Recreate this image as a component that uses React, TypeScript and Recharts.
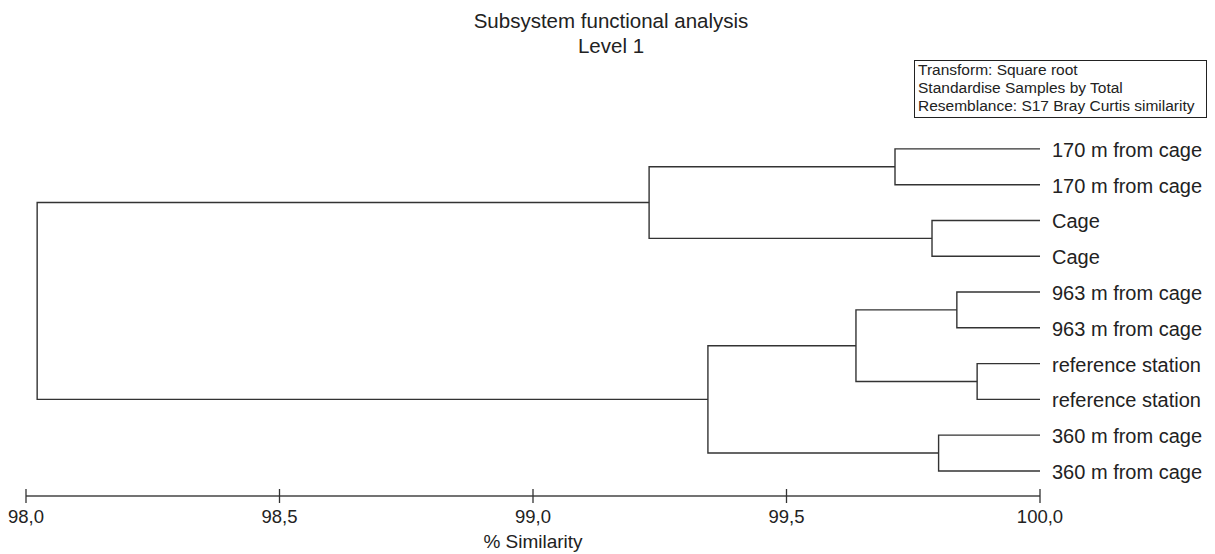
import { LineChart, Line, XAxis, YAxis } from "recharts";

// leaves, top to bottom
const leafLabels = [
  "170 m from cage",
  "170 m from cage",
  "Cage",
  "Cage",
  "963 m from cage",
  "963 m from cage",
  "reference station",
  "reference station",
  "360 m from cage",
  "360 m from cage",
];

// merge i creates cluster id 10 + i (ids < 10 are leaves)
const mergeLeft = [0, 2, 4, 6, 8, 10, 12, 16, 15];
const mergeRight = [1, 3, 5, 7, 9, 11, 13, 14, 17];
const mergeSimilarity = [99.714, 99.787, 99.836, 99.876, 99.8, 99.229, 99.637, 99.345, 98.022];

const xTicks = [98, 98.5, 99, 99.5, 100];
const leafTicks = leafLabels.map((_, i) => i);

const FONT = "'Liberation Sans', Arial, sans-serif";
const INK = "#222";
const LINE = "#333";

// build bracket polylines from the merge table
const nodeY: number[] = leafLabels.map((_, i) => i);
const nodeX: number[] = leafLabels.map(() => 100);
const brackets = mergeSimilarity.map((sim, i) => {
  const a = mergeLeft[i];
  const b = mergeRight[i];
  const pts = [
    { x: nodeX[a], y: nodeY[a] },
    { x: sim, y: nodeY[a] },
    { x: sim, y: nodeY[b] },
    { x: nodeX[b], y: nodeY[b] },
  ];
  nodeY.push((nodeY[a] + nodeY[b]) / 2);
  nodeX.push(sim);
  return pts;
});

const fmt = (v: number) => v.toFixed(1).replace(".", ",");

function XTick(props: any) {
  const { x, y, payload } = props;
  return (
    <g>
      <line x1={x} x2={x} y1={y - 7} y2={y + 7} stroke={LINE} strokeWidth={1.3} />
      <text x={x} y={y + 27} textAnchor="middle" fontSize={18.5} fill={INK} fontFamily={FONT}>
        {fmt(payload.value)}
      </text>
    </g>
  );
}

function LeafTick(props: any) {
  const { x, y, payload } = props;
  return (
    <text x={x} y={y + 8} textAnchor="start" fontSize={20} fill={INK} fontFamily={FONT}>
      {leafLabels[payload.value]}
    </text>
  );
}

export default function App() {
  return (
    <div
      style={{
        position: "absolute",
        left: 0,
        top: 0,
        width: 1215,
        height: 554,
        background: "#fff",
        fontFamily: FONT,
        color: INK,
      }}
    >
      <div
        style={{
          position: "absolute",
          left: 0,
          width: 1222,
          top: 8,
          textAlign: "center",
          fontSize: 20.5,
          lineHeight: "25px",
        }}
      >
        Subsystem functional analysis
        <br />
        Level 1
      </div>
      <div
        style={{
          position: "absolute",
          left: 914,
          top: 60,
          width: 288,
          height: 56,
          border: "1.5px solid #222",
          fontSize: 15.5,
          lineHeight: "18px",
          paddingLeft: 3,
          whiteSpace: "nowrap",
        }}
      >
        Transform: Square root
        <br />
        Standardise Samples by Total
        <br />
        Resemblance: S17 Bray Curtis similarity
      </div>
      <LineChart
        width={1215}
        height={554}
        margin={{ top: 131, right: 0, bottom: 0, left: 26 }}
        style={{ position: "absolute", left: 0, top: 0 }}
      >
        <XAxis
          type="number"
          dataKey="x"
          domain={[98, 100]}
          ticks={xTicks}
          allowDataOverflow
          height={58}
          tickSize={0}
          tickMargin={0}
          tickLine={false}
          axisLine={{ stroke: "#444", strokeWidth: 1.5 }}
          tick={<XTick />}
          interval={0}
          label={{
            value: "% Similarity",
            position: "insideBottom",
            offset: 6,
            fontSize: 19,
            fill: INK,
            fontFamily: FONT,
          }}
        />
        <YAxis
          type="number"
          dataKey="y"
          orientation="right"
          reversed
          domain={[-0.5, 9.7]}
          ticks={leafTicks}
          interval={0}
          width={175}
          tickSize={6}
          tickMargin={6}
          axisLine={false}
          tickLine={false}
          tick={<LeafTick />}
        />
        {brackets.map((pts, i) => (
          <Line
            key={i}
            data={pts}
            dataKey="y"
            type="linear"
            stroke={LINE}
            strokeWidth={1.4}
            dot={false}
            activeDot={false}
            isAnimationActive={false}
          />
        ))}
      </LineChart>
    </div>
  );
}
